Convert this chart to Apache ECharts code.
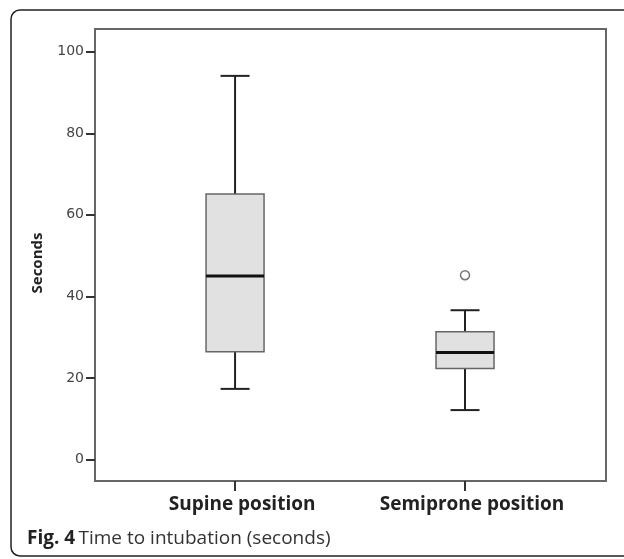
<!DOCTYPE html>
<html>
<head>
<meta charset="utf-8">
<script src="https://cdn.jsdelivr.net/npm/echarts@6/dist/echarts.min.js"></script>
<style>
  html, body { margin: 0; padding: 0; background: #fff; }
  #chart { width: 624px; height: 559px; }
</style>
</head>
<body>
<div id="chart"></div>
<script>
// 数据
var categories = ['Supine position', 'Semiprone position'];
// [lower whisker, Q1, median, Q3, upper whisker]
var boxValues = [
  [17.3, 26.4, 45.0, 65.1, 94.1],
  [12.1, 22.3, 26.2, 31.3, 36.6]
];
// 离群点 [category index, value]
var outliers = [[1, 45.2]];
var yTicks = [0, 20, 40, 60, 80, 100];

var myChart = echarts.init(document.getElementById('chart'));

function renderBox(params, api) {
  var i = api.value(0);
  var lo = api.coord([i, api.value(1)]);
  var q1 = api.coord([i, api.value(2)]);
  var md = api.coord([i, api.value(3)]);
  var q3 = api.coord([i, api.value(4)]);
  var hi = api.coord([i, api.value(5)]);
  var x = lo[0];
  var bw = 29, cw = 14.5; // 箱体半宽，须线端半宽
  var line = { stroke: '#222', lineWidth: 2 };
  return {
    type: 'group',
    children: [
      { type: 'line', shape: { x1: x, y1: q3[1], x2: x, y2: hi[1] }, style: line },
      { type: 'line', shape: { x1: x, y1: q1[1], x2: x, y2: lo[1] }, style: line },
      { type: 'line', shape: { x1: x - cw, y1: hi[1], x2: x + cw, y2: hi[1] }, style: line },
      { type: 'line', shape: { x1: x - cw, y1: lo[1], x2: x + cw, y2: lo[1] }, style: line },
      {
        type: 'rect',
        shape: { x: x - bw, y: q3[1], width: bw * 2, height: q1[1] - q3[1] },
        style: { fill: '#e1e1e1', stroke: '#666', lineWidth: 1.5 }
      },
      { type: 'line', shape: { x1: x - bw, y1: md[1], x2: x + bw, y2: md[1] }, style: { stroke: '#111', lineWidth: 3 } }
    ]
  };
}

myChart.setOption({
  animation: false,
  backgroundColor: '#fff',
  graphic: [
    {
      type: 'rect',
      shape: { x: 11, y: 10, width: 660, height: 546, r: 9 },
      style: { fill: 'none', stroke: '#222', lineWidth: 1.5 },
      z: 0
    },
    {
      type: 'text',
      left: 27,
      top: 529,
      style: {
        text: '{b|Fig. 4} {n|Time to intubation (seconds)}',
        rich: {
          b: { fontFamily: 'Open Sans', fontWeight: 'bold', fontSize: 19, fill: '#222' },
          n: { fontFamily: 'Open Sans', fontSize: 19, fill: '#333' }
        }
      }
    }
  ],
  grid: {
    left: 95,
    right: 18,
    top: 29,
    bottom: 78,
    show: true,
    borderColor: '#666',
    borderWidth: 2,
    backgroundColor: 'transparent'
  },
  xAxis: {
    type: 'value',
    min: -0.609,
    max: 1.613,
    splitLine: { show: false },
    axisLine: { show: false, onZero: false },
    axisTick: {
      show: true,
      customValues: [0, 1],
      length: 10,
      lineStyle: { color: '#333', width: 2 }
    },
    axisLabel: {
      show: true,
      customValues: [0, 1],
      margin: 14,
      padding: [0, 0, 0, 14],
      formatter: function (v) { return categories[Math.round(v)]; },
      fontFamily: 'Open Sans',
      fontWeight: 'bold',
      fontSize: 19,
      color: '#222'
    }
  },
  yAxis: {
    type: 'value',
    min: -5.3,
    max: 105.6,
    name: 'Seconds',
    nameLocation: 'middle',
    nameGap: 50,
    nameTextStyle: { fontFamily: 'Open Sans', fontWeight: 'bold', fontSize: 15, color: '#222', padding: [0, 16, 0, 0] },
    splitLine: { show: false },
    axisLine: { show: false, onZero: false },
    axisTick: {
      show: true,
      customValues: yTicks,
      length: 9,
      lineStyle: { color: '#333', width: 2 }
    },
    axisLabel: {
      customValues: yTicks,
      margin: 11,
      fontFamily: 'DejaVu Sans',
      fontSize: 14,
      color: '#444'
    }
  },
  series: [
    {
      type: 'custom',
      renderItem: renderBox,
      encode: { x: 0, y: [1, 2, 3, 4, 5] },
      data: boxValues.map(function (b, i) { return [i].concat(b); })
    },
    {
      type: 'scatter',
      symbol: 'circle',
      symbolSize: 9,
      itemStyle: { color: '#fff', borderColor: '#555', borderWidth: 1.5 },
      data: outliers
    }
  ]
});
</script>
</body>
</html>
